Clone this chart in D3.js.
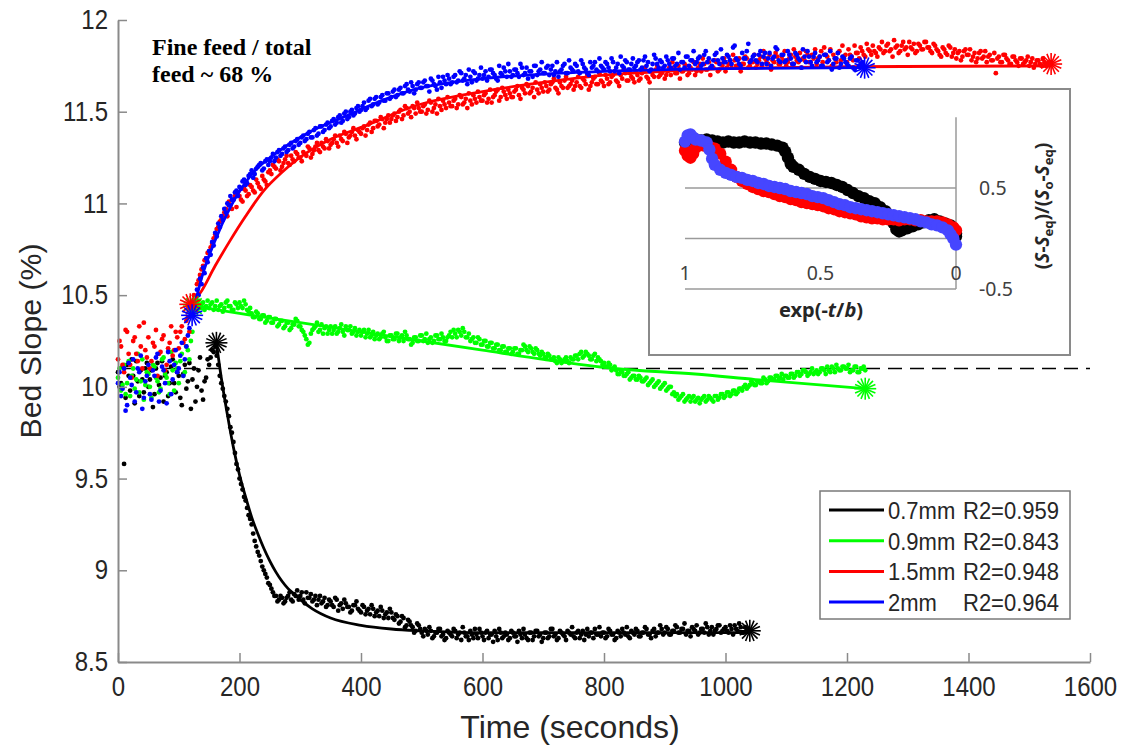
<!DOCTYPE html>
<html><head><meta charset="utf-8">
<script src="https://cdn.jsdelivr.net/npm/d3@7"></script>
<style>body{margin:0;background:#fff}svg{display:block}</style>
</head><body>
<svg id="c" width="1123" height="749"></svg>
<script>
// ---------- axis ticks ----------
const xTicks = [0,200,400,600,800,1000,1200,1400,1600];
const yTicks = [8.5,9,9.5,10,10.5,11,11.5,12];
const refSlope = 10.1;
const sampleStep = 5;   // seconds between samples; sample i of "A" arrays at i*5 s
const sampleOffset = 2.5; // "B" arrays are the samples in between, at 2.5 + i*5 s

// ---------- measured bed slope (%) ----------
const black07A = [
10.08,10.02,9.58,10.12,9.98,10.06,10.14,9.95,10.04,10.10,
10.00,10.09,9.96,10.13,10.05,9.92,10.08,10.02,10.15,9.97,
10.06,9.90,10.12,10.03,9.88,10.10,10.00,10.16,9.93,10.05,
10.12,10.20,10.22,10.12,10.02,9.95,9.88,9.78,9.70,9.58,
9.50,9.44,9.38,9.30,9.25,9.16,9.10,9.05,9.00,8.96,
8.92,8.88,8.86,8.84,8.85,8.83,8.86,8.84,8.87,8.89,
8.86,8.84,8.88,8.85,8.83,8.86,8.84,8.82,8.85,8.81,
8.83,8.80,8.84,8.81,8.79,8.82,8.80,8.78,8.81,8.79,
8.77,8.80,8.78,8.76,8.79,8.77,8.75,8.78,8.76,8.74,
8.77,8.73,8.75,8.72,8.74,8.70,8.72,8.69,8.67,8.70,
8.66,8.68,8.65,8.67,8.64,8.66,8.68,8.65,8.63,8.66,
8.64,8.67,8.65,8.62,8.66,8.64,8.67,8.63,8.65,8.68,
8.64,8.66,8.63,8.65,8.67,8.62,8.66,8.64,8.65,8.63,
8.66,8.64,8.67,8.63,8.65,8.62,8.66,8.64,8.67,8.65,
8.63,8.66,8.64,8.68,8.65,8.63,8.66,8.64,8.67,8.65,
8.64,8.66,8.63,8.67,8.65,8.64,8.66,8.68,8.65,8.64,
8.66,8.64,8.67,8.65,8.63,8.66,8.68,8.65,8.64,8.67,
8.65,8.67,8.64,8.66,8.68,8.65,8.67,8.64,8.66,8.68,
8.66,8.68,8.65,8.67,8.69,8.66,8.68,8.65,8.67,8.69,
8.67,8.65,8.68,8.66,8.69,8.67,8.65,8.68,8.70,8.67,
8.69,8.66,8.68,8.70,8.67,8.69,8.66,8.68,8.67];
const black07B = [
10.00,10.11,9.94,10.06,10.15,9.91,10.03,10.09,9.97,10.13,
10.04,9.89,10.10,10.01,10.14,10.06,9.95,10.11,10.02,10.08,
9.94,10.07,9.99,10.13,10.04,9.92,10.09,9.98,10.03,10.15,
10.16,10.19,10.17,10.06,9.99,9.92,9.84,9.75,9.64,9.55,
9.47,9.40,9.34,9.28,9.20,9.13,9.08,9.02,8.98,8.93,
8.90,8.86,8.83,8.86,8.82,8.85,8.88,8.83,8.86,8.84,
8.88,8.82,8.85,8.87,8.84,8.81,8.86,8.83,8.80,8.84,
8.81,8.85,8.78,8.82,8.84,8.80,8.77,8.81,8.83,8.78,
8.81,8.76,8.79,8.81,8.75,8.78,8.80,8.74,8.77,8.79,
8.74,8.76,8.71,8.75,8.69,8.73,8.70,8.66,8.71,8.68,
8.64,8.67,8.69,8.63,8.66,8.68,8.64,8.62,8.67,8.65,
8.68,8.63,8.66,8.69,8.64,8.62,8.65,8.68,8.63,8.66,
8.62,8.67,8.65,8.61,8.64,8.68,8.63,8.66,8.62,8.67,
8.64,8.61,8.65,8.68,8.63,8.66,8.62,8.67,8.64,8.61,
8.66,8.63,8.68,8.64,8.62,8.67,8.65,8.62,8.66,8.69,
8.63,8.67,8.65,8.62,8.68,8.66,8.63,8.65,8.69,8.66,
8.63,8.68,8.65,8.62,8.67,8.64,8.66,8.69,8.63,8.66,
8.68,8.64,8.66,8.69,8.65,8.63,8.68,8.66,8.70,8.65,
8.69,8.65,8.67,8.70,8.66,8.68,8.71,8.67,8.64,8.68,
8.70,8.66,8.68,8.71,8.65,8.69,8.67,8.70,8.66,8.68,
8.67,8.70,8.65,8.68,8.71,8.66,8.69,8.68];
const green09A = [
10.05,9.98,10.12,10.02,9.95,10.10,10.04,9.97,10.15,10.01,
10.07,9.94,10.11,10.03,9.99,10.16,10.05,9.96,10.09,10.13,
10.02,10.18,10.08,10.20,10.25,10.44,10.45,10.43,10.46,10.44,
10.43,10.46,10.44,10.42,10.45,10.43,10.47,10.44,10.42,10.45,
10.46,10.43,10.45,10.41,10.40,10.38,10.40,10.37,10.39,10.36,
10.38,10.35,10.37,10.34,10.36,10.33,10.35,10.32,10.34,10.36,
10.33,10.30,10.26,10.24,10.31,10.33,10.30,10.34,10.32,10.29,
10.33,10.31,10.29,10.32,10.30,10.33,10.31,10.29,10.32,10.30,
10.28,10.31,10.29,10.27,10.30,10.28,10.26,10.29,10.27,10.25,
10.28,10.26,10.29,10.27,10.25,10.28,10.26,10.24,10.27,10.25,
10.28,10.26,10.24,10.27,10.25,10.28,10.26,10.27,10.25,10.28,
10.27,10.29,10.31,10.28,10.30,10.27,10.25,10.27,10.24,10.26,
10.23,10.25,10.22,10.24,10.21,10.23,10.20,10.22,10.19,10.21,
10.19,10.21,10.18,10.20,10.22,10.19,10.21,10.18,10.20,10.17,
10.18,10.16,10.17,10.15,10.14,10.16,10.13,10.15,10.14,10.16,
10.15,10.17,10.18,10.16,10.19,10.17,10.15,10.18,10.16,10.14,
10.13,10.11,10.12,10.10,10.09,10.07,10.08,10.06,10.08,10.05,
10.06,10.04,10.05,10.03,10.05,10.02,10.04,10.01,10.03,10.00,
10.02,9.99,10.00,9.97,9.96,9.94,9.96,9.93,9.95,9.94,
9.92,9.94,9.93,9.95,9.93,9.94,9.92,9.95,9.94,9.96,
9.95,9.97,9.96,9.98,9.97,9.99,10.00,9.99,10.01,10.02,
10.01,10.03,10.02,10.04,10.03,10.05,10.04,10.06,10.05,10.04,
10.06,10.05,10.07,10.06,10.08,10.07,10.09,10.06,10.08,10.07,
10.09,10.08,10.10,10.07,10.09,10.11,10.08,10.10,10.09,10.11,
10.10,10.08,10.09,10.11,10.08,10.10,10.09];
const green09B = [
10.10,10.01,9.96,10.14,10.06,9.99,10.18,10.03,9.93,10.08,
10.00,10.12,10.05,9.97,10.15,10.07,10.02,10.19,9.98,10.10,
10.14,10.06,10.22,10.15,10.30,10.42,10.47,10.45,10.42,10.47,
10.45,10.42,10.47,10.44,10.41,10.46,10.44,10.42,10.46,10.43,
10.44,10.47,10.42,10.43,10.38,10.41,10.37,10.39,10.35,10.38,
10.35,10.37,10.33,10.36,10.32,10.35,10.31,10.34,10.37,10.33,
10.31,10.28,10.23,10.29,10.32,10.35,10.31,10.29,10.33,10.31,
10.29,10.33,10.30,10.34,10.28,10.31,10.33,10.30,10.28,10.31,
10.30,10.27,10.31,10.28,10.26,10.29,10.27,10.30,10.25,10.28,
10.26,10.29,10.25,10.28,10.30,10.26,10.23,10.27,10.25,10.28,
10.25,10.29,10.26,10.24,10.28,10.26,10.29,10.25,10.27,10.30,
10.31,10.27,10.30,10.32,10.27,10.29,10.26,10.24,10.27,10.23,
10.25,10.22,10.24,10.21,10.23,10.20,10.22,10.19,10.21,10.18,
10.21,10.18,10.20,10.23,10.20,10.22,10.19,10.21,10.18,10.19,
10.16,10.18,10.15,10.16,10.13,10.15,10.14,10.16,10.13,10.15,
10.17,10.15,10.19,10.17,10.18,10.15,10.17,10.14,10.15,10.12,
10.11,10.13,10.09,10.11,10.07,10.09,10.06,10.07,10.04,10.06,
10.04,10.06,10.03,10.04,10.01,10.03,10.00,10.02,9.99,10.01,
9.98,10.00,9.96,9.95,9.93,9.95,9.92,9.94,9.92,9.95,
9.93,9.91,9.94,9.92,9.95,9.93,9.95,9.93,9.96,9.94,
9.97,9.95,9.98,9.96,9.99,9.98,10.01,10.00,10.03,10.01,
10.03,10.02,10.05,10.02,10.05,10.04,10.06,10.04,10.07,10.06,
10.05,10.07,10.05,10.08,10.06,10.09,10.08,10.07,10.10,10.08,
10.07,10.10,10.09,10.11,10.08,10.10,10.12,10.09,10.11,10.10,
10.12,10.09,10.11,10.08,10.10,10.11];
const red15A = [
10.15,10.22,10.08,10.30,10.12,10.25,10.18,10.33,10.10,10.20,
10.27,10.14,10.22,10.06,10.19,10.28,10.12,10.24,10.17,10.30,
10.21,10.33,10.26,10.38,10.45,10.50,10.56,10.61,10.66,10.70,
10.74,10.78,10.83,10.87,10.91,10.95,10.93,10.99,11.02,10.98,
11.04,11.01,11.07,11.05,11.09,11.06,11.11,11.08,11.13,11.10,
11.18,11.21,11.19,11.23,11.20,11.24,11.22,11.26,11.23,11.27,
11.25,11.28,11.26,11.30,11.27,11.31,11.29,11.33,11.30,11.34,
11.32,11.35,11.33,11.37,11.34,11.38,11.36,11.39,11.37,11.40,
11.38,11.42,11.40,11.44,11.41,11.45,11.43,11.46,11.44,11.48,
11.46,11.49,11.47,11.51,11.48,11.52,11.50,11.53,11.49,11.52,
11.50,11.54,11.51,11.55,11.52,11.49,11.53,11.56,11.52,11.55,
11.53,11.57,11.54,11.58,11.55,11.52,11.56,11.59,11.55,11.58,
11.56,11.60,11.57,11.55,11.59,11.62,11.58,11.61,11.57,11.60,
11.58,11.62,11.59,11.63,11.60,11.64,11.61,11.58,11.62,11.65,
11.61,11.64,11.62,11.66,11.63,11.60,11.64,11.67,11.63,11.65,
11.62,11.66,11.64,11.68,11.65,11.62,11.66,11.69,11.65,11.67,
11.64,11.68,11.66,11.70,11.67,11.64,11.68,11.71,11.67,11.69,
11.66,11.70,11.68,11.72,11.69,11.66,11.70,11.73,11.69,11.71,
11.68,11.72,11.70,11.74,11.71,11.68,11.72,11.75,11.71,11.73,
11.70,11.74,11.72,11.76,11.73,11.70,11.74,11.77,11.73,11.75,
11.72,11.76,11.74,11.78,11.75,11.72,11.76,11.79,11.75,11.77,
11.74,11.78,11.75,11.79,11.76,11.73,11.77,11.80,11.76,11.78,
11.75,11.79,11.76,11.80,11.77,11.74,11.78,11.81,11.77,11.79,
11.76,11.80,11.77,11.81,11.78,11.75,11.79,11.82,11.78,11.80,
11.77,11.81,11.78,11.82,11.79,11.83,11.80,11.84,11.81,11.83,
11.80,11.84,11.82,11.86,11.83,11.80,11.85,11.82,11.86,11.84,
11.81,11.85,11.87,11.83,11.86,11.84,11.88,11.85,11.82,11.86,
11.83,11.80,11.84,11.81,11.85,11.82,11.79,11.83,11.80,11.84,
11.81,11.78,11.82,11.79,11.83,11.80,11.77,11.81,11.78,11.71,
11.80,11.77,11.81,11.78,11.76,11.80,11.77,11.79,11.76,11.78,
11.75,11.79,11.76,11.78,11.75,11.77,11.76,11.77];
const red15B = [
10.25,10.12,10.31,10.18,10.05,10.27,10.14,10.22,10.35,10.16,
10.10,10.24,10.31,10.18,10.26,10.09,10.21,10.33,10.20,10.27,
10.30,10.24,10.36,10.30,10.42,10.47,10.58,10.64,10.69,10.73,
10.76,10.81,10.86,10.90,10.93,10.97,11.01,10.97,11.04,11.06,
11.02,11.08,11.04,11.10,11.07,11.13,11.09,11.15,11.12,11.17,
11.16,11.20,11.24,11.18,11.22,11.26,11.21,11.24,11.28,11.25,
11.23,11.27,11.31,11.25,11.29,11.33,11.28,11.31,11.35,11.30,
11.33,11.37,11.31,11.35,11.39,11.33,11.37,11.41,11.35,11.39,
11.41,11.37,11.43,11.39,11.45,11.42,11.47,11.41,11.46,11.44,
11.48,11.45,11.50,11.46,11.53,11.49,11.47,11.52,11.55,11.50,
11.53,11.49,11.56,11.50,11.54,11.57,11.51,11.54,11.58,11.53,
11.56,11.52,11.59,11.54,11.57,11.60,11.54,11.57,11.61,11.56,
11.59,11.55,11.62,11.58,11.61,11.56,11.63,11.59,11.62,11.58,
11.61,11.64,11.57,11.62,11.65,11.60,11.63,11.66,11.60,11.63,
11.66,11.61,11.65,11.68,11.62,11.66,11.63,11.69,11.64,11.67,
11.64,11.69,11.63,11.67,11.70,11.64,11.68,11.65,11.71,11.66,
11.70,11.65,11.69,11.72,11.66,11.70,11.73,11.67,11.71,11.68,
11.72,11.67,11.71,11.74,11.68,11.72,11.69,11.75,11.70,11.73,
11.70,11.74,11.77,11.71,11.75,11.72,11.76,11.70,11.74,11.77,
11.72,11.76,11.79,11.73,11.77,11.74,11.78,11.72,11.76,11.79,
11.74,11.78,11.81,11.75,11.79,11.76,11.80,11.74,11.78,11.81,
11.76,11.80,11.83,11.77,11.81,11.78,11.82,11.76,11.80,11.83,
11.77,11.81,11.84,11.78,11.82,11.79,11.83,11.77,11.81,11.84,
11.79,11.83,11.85,11.80,11.84,11.81,11.77,11.83,11.86,11.81,
11.84,11.80,11.86,11.82,11.85,11.81,11.87,11.83,11.86,11.82,
11.85,11.88,11.83,11.87,11.84,11.89,11.86,11.83,11.88,11.85,
11.88,11.84,11.82,11.87,11.84,11.88,11.85,11.83,11.87,11.84,
11.81,11.85,11.82,11.86,11.80,11.84,11.82,11.78,11.83,11.81,
11.84,11.80,11.77,11.82,11.79,11.83,11.80,11.78,11.82,11.79,
11.77,11.81,11.79,11.76,11.80,11.78,11.75,11.79,11.77,11.80,
11.77,11.74,11.78,11.76,11.79,11.75,11.77];
const blue2A = [
10.02,9.95,10.10,9.90,10.05,10.15,9.97,10.08,9.88,10.03,
10.12,9.93,10.06,10.18,9.98,10.09,9.91,10.14,10.04,10.20,
10.10,10.24,10.15,10.28,10.39,10.46,10.53,10.59,10.65,10.70,
10.74,10.79,10.84,10.89,10.93,10.97,11.00,11.04,11.02,11.07,
11.09,11.12,11.10,11.15,11.18,11.16,11.20,11.22,11.19,11.24,
11.23,11.27,11.25,11.29,11.27,11.31,11.29,11.33,11.31,11.35,
11.33,11.37,11.35,11.39,11.36,11.41,11.38,11.42,11.40,11.44,
11.42,11.46,11.44,11.48,11.45,11.50,11.47,11.51,11.49,11.53,
11.51,11.55,11.52,11.57,11.54,11.58,11.55,11.59,11.56,11.60,
11.58,11.62,11.59,11.63,11.60,11.65,11.61,11.64,11.62,11.66,
11.63,11.67,11.64,11.68,11.65,11.62,11.66,11.69,11.65,11.68,
11.66,11.70,11.67,11.71,11.68,11.65,11.69,11.72,11.67,11.70,
11.68,11.72,11.69,11.73,11.70,11.67,11.71,11.74,11.69,11.72,
11.70,11.73,11.69,11.74,11.71,11.68,11.72,11.75,11.70,11.73,
11.71,11.74,11.70,11.75,11.72,11.69,11.73,11.76,11.71,11.74,
11.72,11.75,11.71,11.76,11.73,11.70,11.74,11.77,11.72,11.75,
11.73,11.76,11.72,11.77,11.74,11.71,11.75,11.78,11.73,11.76,
11.74,11.77,11.73,11.78,11.75,11.72,11.76,11.79,11.74,11.77,
11.75,11.78,11.74,11.79,11.76,11.73,11.77,11.80,11.75,11.78,
11.76,11.79,11.75,11.81,11.77,11.74,11.78,11.82,11.76,11.79,
11.77,11.80,11.76,11.86,11.78,11.75,11.79,11.83,11.77,11.80,
11.78,11.81,11.76,11.82,11.79,11.75,11.80,11.84,11.77,11.81,
11.78,11.81,11.76,11.82,11.79,11.74,11.80,11.83,11.77,11.80,
11.77,11.80,11.75,11.81,11.78,11.73,11.79,11.82,11.76,11.79,
11.76,11.79,11.74,11.78,11.75,11.77];
const blue2B = [
10.08,9.99,9.87,10.13,10.01,9.92,10.10,10.17,9.94,10.06,
9.96,10.09,10.16,9.92,10.11,10.02,10.19,9.96,10.12,10.08,
10.17,10.06,10.22,10.32,10.40,10.43,10.50,10.56,10.62,10.68,
10.72,10.77,10.82,10.87,10.91,10.95,10.99,11.02,11.06,11.04,
11.08,11.13,11.11,11.16,11.14,11.19,11.21,11.18,11.23,11.21,
11.25,11.23,11.28,11.26,11.30,11.28,11.32,11.30,11.34,11.32,
11.36,11.34,11.38,11.36,11.40,11.37,11.42,11.39,11.43,11.41,
11.45,11.43,11.47,11.44,11.49,11.46,11.50,11.48,11.52,11.50,
11.53,11.51,11.56,11.53,11.57,11.54,11.58,11.56,11.60,11.57,
11.61,11.58,11.62,11.60,11.64,11.62,11.66,11.60,11.65,11.63,
11.66,11.64,11.61,11.67,11.64,11.69,11.63,11.67,11.70,11.65,
11.69,11.66,11.72,11.67,11.70,11.73,11.66,11.71,11.68,11.74,
11.70,11.67,11.73,11.71,11.68,11.75,11.70,11.72,11.76,11.69,
11.73,11.71,11.76,11.70,11.74,11.72,11.69,11.75,11.72,11.77,
11.71,11.75,11.73,11.70,11.77,11.72,11.75,11.71,11.78,11.73,
11.76,11.72,11.78,11.74,11.71,11.77,11.75,11.73,11.79,11.74,
11.77,11.74,11.79,11.72,11.76,11.80,11.74,11.77,11.73,11.79,
11.75,11.78,11.74,11.80,11.77,11.73,11.81,11.76,11.78,11.74,
11.80,11.76,11.79,11.75,11.82,11.77,11.74,11.80,11.78,11.83,
11.77,11.80,11.76,11.83,11.79,11.75,11.81,11.78,11.84,11.77,
11.81,11.78,11.85,11.79,11.76,11.82,11.79,11.87,11.78,11.81,
11.77,11.83,11.80,11.76,11.82,11.79,11.85,11.78,11.81,11.77,
11.83,11.79,11.76,11.81,11.78,11.84,11.77,11.80,11.75,11.82,
11.78,11.75,11.81,11.77,11.83,11.76,11.79,11.74,11.80,11.77,
11.75,11.80,11.73,11.78,11.76];

// ---------- exponential fits, read as [time, slope] ----------
const fitBlack = [[162,10.24],[170,10.05],[180,9.85],[190,9.67],[200,9.52],[210,9.40],[220,9.29],[230,9.20],[240,9.12],[250,9.05],[260,8.99],[270,8.94],[280,8.90],[290,8.87],[300,8.84],[320,8.79],[350,8.74],[400,8.70],[450,8.68],[500,8.67],[600,8.66],[800,8.66],[1040,8.66]];
const fitGreen = [[125,10.44],[200,10.40],[300,10.35],[400,10.30],[500,10.25],[600,10.20],[700,10.15],[817,10.10],[950,10.07],[1049,10.04],[1230,9.99]];
const fitRed = [[119,10.45],[135,10.51],[160,10.66],[185,10.80],[210,10.93],[240,11.07],[270,11.17],[295,11.24],[350,11.35],[405,11.42],[487,11.53],[600,11.61],[700,11.66],[800,11.70],[900,11.72],[1000,11.735],[1200,11.745],[1536,11.75]];
const fitBlue = [[122,10.39],[140,10.62],[160,10.80],[185,10.98],[218,11.15],[267,11.29],[322,11.40],[378,11.48],[433,11.56],[487,11.62],[600,11.68],[700,11.705],[800,11.72],[1000,11.735],[1229,11.74]];

// start / end markers [time, slope]
const starsBlack = [[162,10.24],[1040,8.67]];
const starsGreen = [[125,10.44],[1230,9.99]];
const starsRed = [[119,10.45],[1536,11.76]];
const starsBlue = [[122,10.39],[1229,11.74]];

const legendNames = ["0.7mm","0.9mm","1.5mm","2mm"];
const legendR2 = ["R2=0.959","R2=0.843","R2=0.948","R2=0.964"];
const colors = ["#000000","#00ff00","#ff0000","#0000ff"];

// ---------- inset: normalised slope vs exp(-t/b) ----------
const insetBlack = [[1.00,0.95],[0.98,0.99],[0.96,0.98],[0.94,0.97],[0.92,0.98],[0.90,0.97],[0.88,0.96],[0.86,0.95],[0.84,0.96],[0.82,0.95],[0.80,0.95],[0.78,0.96],[0.76,0.95],[0.74,0.95],[0.72,0.94],[0.70,0.94],[0.68,0.93],[0.66,0.92],[0.64,0.90],[0.63,0.86],[0.62,0.80],[0.61,0.74],[0.60,0.71],[0.58,0.68],[0.56,0.64],[0.54,0.61],[0.52,0.59],[0.50,0.57],[0.48,0.56],[0.46,0.55],[0.44,0.53],[0.42,0.51],[0.40,0.48],[0.38,0.45],[0.36,0.42],[0.34,0.40],[0.32,0.37],[0.30,0.35],[0.28,0.31],[0.26,0.27],[0.24,0.22],[0.23,0.15],[0.22,0.09],[0.21,0.07],[0.20,0.08],[0.18,0.10],[0.16,0.12],[0.14,0.14],[0.12,0.16],[0.10,0.18],[0.08,0.19],[0.06,0.17],[0.04,0.15],[0.02,0.13],[0.01,0.10],[0.00,0.05],[0.00,0.02]];
const insetRed = [[1.00,0.87],[0.99,0.82],[0.98,0.80],[0.97,0.84],[0.96,0.90],[0.95,0.93],[0.93,0.92],[0.91,0.91],[0.89,0.89],[0.87,0.84],[0.85,0.76],[0.83,0.68],[0.81,0.61],[0.79,0.57],[0.77,0.54],[0.75,0.51],[0.73,0.49],[0.71,0.47],[0.69,0.46],[0.67,0.44],[0.65,0.42],[0.63,0.41],[0.61,0.39],[0.59,0.38],[0.57,0.36],[0.55,0.35],[0.53,0.34],[0.51,0.33],[0.49,0.32],[0.47,0.30],[0.45,0.29],[0.43,0.27],[0.41,0.26],[0.39,0.25],[0.37,0.24],[0.35,0.22],[0.33,0.21],[0.31,0.20],[0.29,0.20],[0.27,0.19],[0.25,0.19],[0.23,0.19],[0.21,0.18],[0.19,0.19],[0.17,0.19],[0.15,0.18],[0.13,0.18],[0.11,0.17],[0.09,0.17],[0.07,0.17],[0.05,0.16],[0.03,0.14],[0.01,0.11],[0.00,0.08]];
const insetBlue = [[1.00,0.96],[0.99,1.02],[0.98,1.03],[0.97,1.00],[0.96,0.98],[0.94,0.97],[0.92,0.95],[0.91,0.88],[0.90,0.79],[0.89,0.73],[0.87,0.68],[0.85,0.65],[0.83,0.63],[0.81,0.61],[0.79,0.60],[0.77,0.58],[0.75,0.57],[0.73,0.55],[0.71,0.54],[0.69,0.52],[0.67,0.51],[0.65,0.50],[0.63,0.49],[0.61,0.47],[0.59,0.46],[0.57,0.45],[0.55,0.44],[0.53,0.42],[0.51,0.41],[0.49,0.40],[0.47,0.38],[0.45,0.36],[0.43,0.34],[0.41,0.33],[0.39,0.31],[0.37,0.30],[0.35,0.29],[0.33,0.28],[0.31,0.27],[0.29,0.26],[0.27,0.25],[0.25,0.24],[0.23,0.23],[0.21,0.22],[0.19,0.21],[0.17,0.20],[0.15,0.19],[0.13,0.17],[0.11,0.16],[0.09,0.14],[0.07,0.13],[0.05,0.11],[0.03,0.08],[0.02,0.04],[0.01,0.00],[0.00,-0.06]];
const insetXTicks = [1,0.5,0];
const insetGrid = [-0.5,0,0.5];
const insetYLabels = [0.5,-0.5];
const insetColors = ["#000000","#ff0000","#4646ff"];

// ================= drawing =================
const svg = d3.select("#c");
const L = 118, R = 1090, T = 20, B = 662;
const x = d3.scaleLinear().domain([0,1600]).range([L,R]);
const y = d3.scaleLinear().domain([8.5,12]).range([B,T]);
const FONT = "'Liberation Sans', Arial, Helvetica, sans-serif";
const axisGray = "#8a8a8a";

// taller-than-wide text like the reference: glyph width of `base`, height of `tall`
function tallText(sel, base, tall) {
  sel.each(function() {
    const t = d3.select(this).style("font-size", base + "px");
    const w = this.getComputedTextLength();
    t.style("font-size", tall + "px").attr("textLength", w).attr("lengthAdjust", "spacingAndGlyphs");
  });
}

const series = [
  {a:black07A, b:black07B, fit:fitBlack, stars:starsBlack, color:colors[0]},
  {a:green09A, b:green09B, fit:fitGreen, stars:starsGreen, color:colors[1]},
  {a:red15A, b:red15B, fit:fitRed, stars:starsRed, color:colors[2]},
  {a:blue2A, b:blue2B, fit:fitBlue, stars:starsBlue, color:colors[3]}
];

const plot = svg.append("g");
const line = d3.line().x(d=>x(d[0])).y(d=>y(d[1])).curve(d3.curveMonotoneX);

function star(g, cx, cy, color) {
  const r = 11, n = 8;
  for (let k = 0; k < n; k++) {
    const a = Math.PI * k / n;
    g.append("line")
      .attr("x1", cx - r*Math.cos(a)).attr("y1", cy - r*Math.sin(a))
      .attr("x2", cx + r*Math.cos(a)).attr("y2", cy + r*Math.sin(a))
      .attr("stroke", color).attr("stroke-width", 1.6);
  }
}

plot.append("line")
  .attr("x1", x(0)).attr("x2", x(1600)).attr("y1", y(refSlope)).attr("y2", y(refSlope))
  .attr("stroke", "#000").attr("stroke-width", 1.5).attr("stroke-dasharray", "14,8");

series.forEach(s => {
  const pts = s.a.map((v,i)=>[i*sampleStep, v]).concat(s.b.map((v,i)=>[sampleOffset + i*sampleStep, v]));
  plot.append("g").selectAll("circle").data(pts).join("circle")
    .attr("cx", d=>x(d[0])).attr("cy", d=>y(d[1]))
    .attr("r", 2.4).attr("fill", s.color);
  plot.append("path").datum(s.fit).attr("d", line)
    .attr("fill","none").attr("stroke", s.color).attr("stroke-width", 2.8);
});
series.forEach(s => {
  const g = plot.append("g");
  s.stars.forEach(p => star(g, x(p[0]), y(p[1]), s.color));
});

// axes
const gx = svg.append("g").attr("transform", `translate(0,${B})`)
  .call(d3.axisBottom(x).tickValues(xTicks).tickSizeInner(-9).tickSizeOuter(0).tickPadding(15).tickFormat(d3.format("d")));
const gy = svg.append("g").attr("transform", `translate(${L},0)`)
  .call(d3.axisLeft(y).tickValues(yTicks).tickSizeInner(-9).tickSizeOuter(0).tickPadding(10).tickFormat(d=>String(d)));
[gx, gy].forEach(g => {
  g.select(".domain").attr("stroke", axisGray).attr("stroke-width", 2);
  g.selectAll(".tick line").attr("stroke", axisGray).attr("stroke-width", 1.5);
  g.selectAll(".tick text").attr("fill", "#262626").style("font-family", FONT);
  tallText(g.selectAll(".tick text"), 24, 27);
});

svg.append("text").attr("x", 570).attr("y", 738).attr("text-anchor","middle")
  .style("font-family", FONT).style("font-size","32px").attr("fill","#262626").text("Time (seconds)");
svg.append("text").attr("transform", `translate(41,${(T+B)/2}) rotate(-90)`).attr("text-anchor","middle")
  .style("font-family", FONT).style("font-size","29px").attr("fill","#262626")
  .attr("textLength", 195).attr("lengthAdjust","spacingAndGlyphs").text("Bed Slope (%)");

// annotation
const ann = svg.append("text").style("font-family","'Liberation Serif','Times New Roman',serif")
  .style("font-size","24px").style("font-weight","bold").attr("fill","#000");
ann.append("tspan").attr("x",152).attr("y",55).text("Fine feed / total");
ann.append("tspan").attr("x",152).attr("y",82).text("feed ~ 68 %");

// legend
const lg = svg.append("g");
lg.append("rect").attr("x",820).attr("y",491).attr("width",250).attr("height",128)
  .attr("fill","#fff").attr("stroke","#7a7a7a").attr("stroke-width",1.5);
legendNames.forEach((nm,i) => {
  const ry = 510 + i*30.7;
  lg.append("line").attr("x1",829).attr("x2",884).attr("y1",ry).attr("y2",ry)
    .attr("stroke",colors[i]).attr("stroke-width",3);
  const t1 = lg.append("text").attr("x",888).attr("y",ry+9).style("font-family",FONT)
    .attr("fill","#262626").text(nm);
  const t2 = lg.append("text").attr("x",963).attr("y",ry+9).style("font-family",FONT)
    .attr("fill","#262626").text(legendR2[i]);
  tallText(t1, 22, 24.5); tallText(t2, 22, 24.5);
});

// inset
const IF = "'Noto Sans', 'Open Sans', sans-serif";
const ins = svg.append("g");
ins.append("rect").attr("x",649).attr("y",89).attr("width",421).attr("height",266)
  .attr("fill","#fff").attr("stroke","#8a8a8a").attr("stroke-width",2);
const ix = d3.scaleLinear().domain([1,0]).range([685,956]);
const iy = d3.scaleLinear().domain([-0.5,0.5]).range([289,188]);
insetGrid.forEach(v => {
  ins.append("line").attr("x1",ix(1)).attr("x2",ix(0)).attr("y1",iy(v)).attr("y2",iy(v))
    .attr("stroke","#9a9a9a").attr("stroke-width",1.5);
});
ins.append("line").attr("x1",ix(0)).attr("x2",ix(0)).attr("y1",iy(1.2)).attr("y2",iy(-0.5))
  .attr("stroke","#9a9a9a").attr("stroke-width",1.5);
[insetBlack, insetRed, insetBlue].forEach((pts,k) => {
  ins.append("g").selectAll("circle").data(pts).join("circle")
    .attr("cx", d=>ix(d[0])).attr("cy", d=>iy(d[1])).attr("r", 6.2).attr("fill", insetColors[k]);
});
insetXTicks.forEach(v => {
  ins.append("text").attr("x",ix(v)).attr("y",280).attr("text-anchor","middle")
    .style("font-family",IF).style("font-size","19.5px").attr("fill","#404040").text(String(v));
});
insetYLabels.forEach(v => {
  ins.append("text").attr("x",979).attr("y",iy(v)+7)
    .style("font-family",IF).style("font-size","19.5px").attr("fill","#404040").text(String(v));
});
const ixt = ins.append("text").attr("x",821).attr("y",317).attr("text-anchor","middle")
  .style("font-family",IF).style("font-size","20px").style("font-weight","bold").attr("fill","#262626");
ixt.append("tspan").text("exp(-");
ixt.append("tspan").style("font-style","italic").text("t");
ixt.append("tspan").text("/");
ixt.append("tspan").style("font-style","italic").text("b");
ixt.append("tspan").text(")");
const iyt = ins.append("text").attr("transform","translate(1049,206) rotate(-90)").attr("text-anchor","middle")
  .style("font-family",IF).style("font-size","19px").style("font-weight","bold").attr("fill","#262626");
const parts = [["(",0],["S",1],["-",0],["S",1],["eq",2],[")/(",0],["S",1],["o",2],["-",0],["S",1],["eq",2],[")",0]];
parts.forEach(([t,kind],i) => {
  const ts = iyt.append("tspan").text(t);
  if (kind===1) ts.style("font-style","italic");
  if (kind===2) ts.style("font-size","13px").attr("dy", 4);
  else if (i>0 && parts[i-1][1]===2) ts.attr("dy", -4);
});
</script>
</body></html>
